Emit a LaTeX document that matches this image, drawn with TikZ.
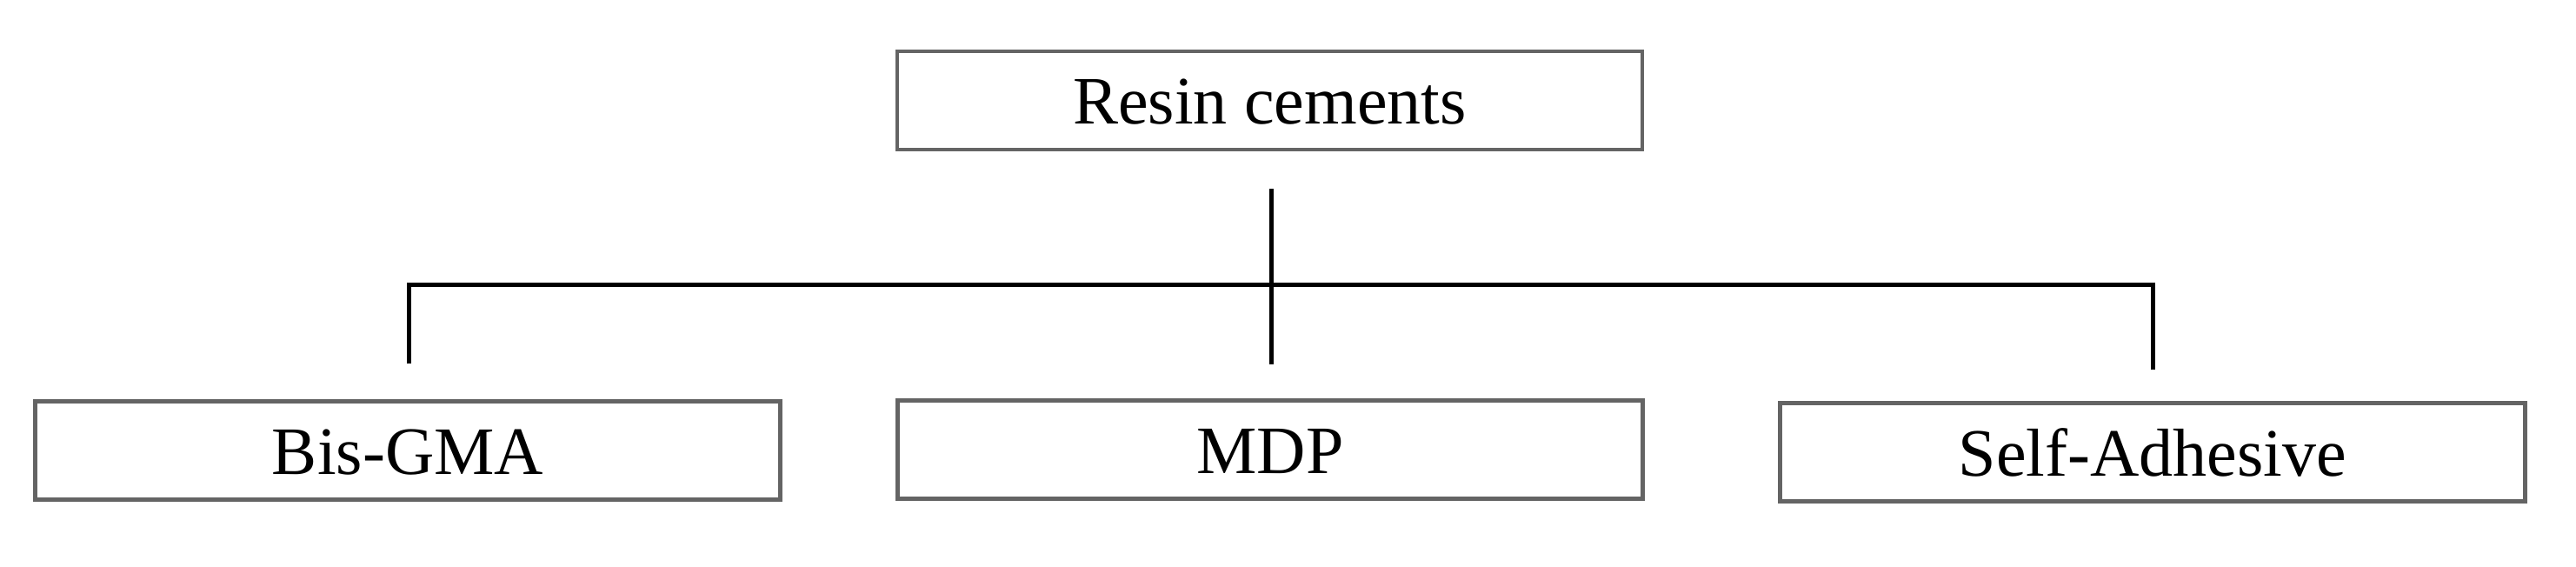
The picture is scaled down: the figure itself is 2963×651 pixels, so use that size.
\documentclass[tikz,border=0pt]{standalone}
\usepackage{fontspec}
\setmainfont{Liberation Serif}
\definecolor{boxgray}{RGB}{100,100,100}
\begin{document}
\begin{tikzpicture}[x=1pt,y=-1pt,
  catbox/.style={draw=boxgray, line width=4.5pt, minimum width=857pt, minimum height=113pt,
    inner sep=0pt, text height=54pt, text depth=0pt, font=\fontsize{78}{90}\selectfont},
  link/.style={line width=5pt, draw=black}]
\useasboundingbox (0,0) rectangle (2963,651);
\node[catbox] (root) at (1460.5,115.5) {Resin cements};
\node[catbox] (bis) at (469,518) {Bis-GMA};
\node[catbox] (mdp) at (1461,517) {MDP};
\node[catbox] (self) at (2476,520) {Self-Adhesive};
\coordinate (vtop) at (1462,217);
\coordinate (vbot) at (1462,419);
\coordinate (hl) at (470,327);
\coordinate (hr) at (2476,327);
\coordinate (ldrop) at (470,418);
\coordinate (rdrop) at (2476,425);
\draw[link] (vtop) -- (vbot);
\draw[link] (ldrop) -- (hl) -- (hr) -- (rdrop);
\end{tikzpicture}
\end{document}
